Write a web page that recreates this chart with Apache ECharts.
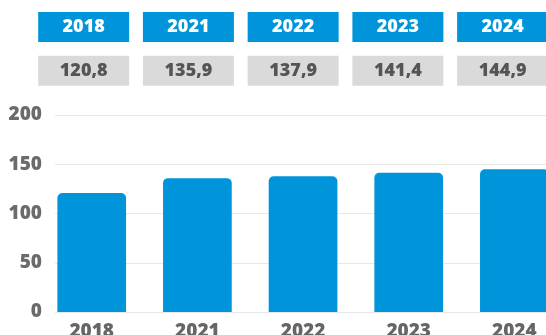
<!DOCTYPE html>
<html>
<head>
<meta charset="utf-8">
<script src="https://cdn.jsdelivr.net/npm/echarts@6/dist/echarts.min.js"></script>
<style>
html,body{margin:0;padding:0;background:#fff;overflow:hidden;width:546px;height:335px;}
#c{width:620px;height:335px;}
</style>
</head>
<body>
<div id="c"></div>
<script>
var years = ['2018', '2021', '2022', '2023', '2024'];
var values = [120.8, 135.9, 137.9, 141.4, 144.9];
var yTicks = { min: 0, max: 200, interval: 50 };

var FONT = 'Open Sans';
var BLUE = '#0095da';
var W = 620; // canvas width; the visible window is 546px, chart continues past the right edge

var chart = echarts.init(document.getElementById('c'), null, { renderer: 'canvas' });
chart.setOption({
  animation: false,
  backgroundColor: '#ffffff',
  grid: [
    { left: 38.9, right: W - 567.2, top: 115, bottom: 23, outerBoundsMode: 'none', containLabel: false },
    { left: 31.3, right: W - 555, top: 42, bottom: 279.3, outerBoundsMode: 'none', containLabel: false },
    { left: 55, right: W - 546, top: 115, bottom: 23, outerBoundsMode: 'none', containLabel: false }
  ],
  xAxis: [
    {
      gridIndex: 0, type: 'category', data: years,
      axisLine: { show: false }, axisTick: { show: false },
      axisLabel: { margin: 10, fontFamily: FONT, fontWeight: 800, fontSize: 19, color: '#666666' }
    },
    {
      gridIndex: 1, type: 'category', data: years, position: 'top',
      axisLine: { show: false }, axisTick: { show: false },
      axisLabel: {
        margin: 0, fontFamily: FONT, fontWeight: 800, fontSize: 18, color: '#ffffff',
        backgroundColor: BLUE, width: 91, height: 30, lineHeight: 30, align: 'center', verticalAlign: 'bottom'
      }
    },
    {
      gridIndex: 1, type: 'category', position: 'bottom',
      data: values.map(function (v) { return v.toFixed(1).replace('.', ','); }),
      axisLine: { show: false }, axisTick: { show: false },
      axisLabel: {
        margin: 0, fontFamily: FONT, fontWeight: 800, fontSize: 18, color: '#555555',
        backgroundColor: '#dadada', width: 91, height: 30, lineHeight: 30, align: 'center', verticalAlign: 'top'
      }
    },
    { gridIndex: 2, type: 'value', show: false, min: 0, max: 1 }
  ],
  yAxis: [
    { gridIndex: 0, type: 'value', min: yTicks.min, max: yTicks.max, interval: yTicks.interval, show: false },
    { gridIndex: 1, type: 'value', show: false },
    {
      gridIndex: 2, type: 'value', min: yTicks.min, max: yTicks.max, interval: yTicks.interval,
      axisLine: { show: false }, axisTick: { show: false },
      axisLabel: { margin: 13, fontFamily: FONT, fontWeight: 800, fontSize: 19, color: '#6b6b6b' },
      splitLine: { lineStyle: { color: '#e8e8e8', width: 1 } }
    }
  ],
  series: [
    {
      type: 'bar', xAxisIndex: 0, yAxisIndex: 0, data: values,
      barWidth: 68.7,
      itemStyle: { color: BLUE, borderRadius: [5, 5, 0, 0] }
    }
  ]
});
</script>
</body>
</html>
